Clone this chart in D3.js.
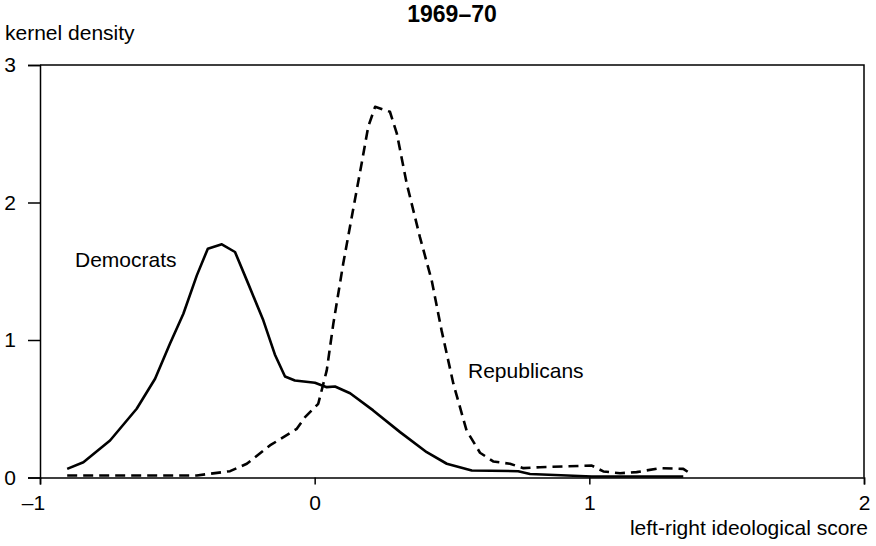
<!DOCTYPE html>
<meta charset="utf-8">
<body style="margin:0;background:#fff">
<style>
text { font-family: "Liberation Sans", Arial, Helvetica, sans-serif; font-size: 21px; fill: #000; }
.domain, .tick line { stroke: #000; stroke-width: 1.5px; }
.frame { fill: none; stroke: #000; stroke-width: 1.5px; }
.curve { fill: none; stroke: #000; stroke-width: 2.6px; stroke-linejoin: round; }
</style>
<script src="https://cdn.jsdelivr.net/npm/d3@7"></script>
<script>

// Democrats kernel density (solid)
var demX = [-0.901, -0.842, -0.745, -0.648, -0.581, -0.527, -0.478, -0.429, -0.389, -0.338,
            -0.290, -0.242, -0.187, -0.145, -0.108, -0.072, 0.001, 0.044, 0.074, 0.129,
            0.213, 0.311, 0.408, 0.481, 0.572, 0.741, 0.784, 1.009, 1.342];
var demY = [0.063, 0.111, 0.269, 0.500, 0.718, 0.973, 1.191, 1.470, 1.664, 1.696,
            1.640, 1.410, 1.143, 0.895, 0.735, 0.706, 0.689, 0.657, 0.662, 0.613,
            0.488, 0.330, 0.184, 0.100, 0.051, 0.046, 0.026, 0.007, 0.007];

// Republicans kernel density (dashed)
var repX = [-0.901, -0.429, -0.308, -0.247, -0.163, -0.065, -0.035, 0.013, 0.044, 0.068,
            0.104, 0.135, 0.171, 0.195, 0.220, 0.274, 0.299, 0.335, 0.383, 0.426,
            0.462, 0.505, 0.553, 0.602, 0.650, 0.711, 0.760, 0.820, 1.009, 1.051,
            1.112, 1.172, 1.257, 1.342, 1.360];
var repY = [0.015, 0.015, 0.046, 0.100, 0.233, 0.354, 0.439, 0.536, 0.779, 1.119,
            1.556, 1.895, 2.284, 2.551, 2.696, 2.660, 2.503, 2.139, 1.750, 1.434,
            1.070, 0.682, 0.342, 0.180, 0.117, 0.100, 0.068, 0.075, 0.087, 0.044,
            0.031, 0.039, 0.068, 0.063, 0.039];

var xTicks = [-1, 0, 1, 2];
var yTicks = [0, 1, 2, 3];

var width = 876, height = 546;
var svg = d3.select("body").append("svg")
    .attr("width", width)
    .attr("height", height);

var x = d3.scaleLinear().domain([-1, 2]).range([40, 864]);
var y = d3.scaleLinear().domain([0, 3]).range([477.5, 65]);

// frame (top and right edges)
svg.append("path")
    .attr("class", "frame")
    .attr("d", "M" + x(-1) + "," + y(3) + "H" + x(2) + "V" + y(0));

svg.append("g")
    .attr("transform", "translate(0," + y(0) + ")")
    .call(d3.axisBottom(x).tickValues(xTicks).tickSize(7).tickPadding(11)
      .tickFormat(function(d) { return d < 0 ? "\u2013" + Math.abs(d) : d; }))
    .call(function(g) {
      g.selectAll("text").style("font-size", "21px").style("font-family", null)
        .attr("dx", function(d) { return d < 0 ? -7 : 0; });
    });

svg.append("g")
    .attr("transform", "translate(" + x(-1) + ",0)")
    .call(d3.axisLeft(y).tickValues(yTicks).tickSize(12).tickPadding(12)
      .tickFormat(d3.format("d")))
    .call(function(g) {
      g.selectAll("text").style("font-size", "21px").style("font-family", null);
    });

svg.selectAll(".domain").attr("fill", "none");

var line = d3.line()
    .x(function(d) { return x(d[0]); })
    .y(function(d) { return y(d[1]); });

svg.append("path")
    .datum(d3.zip(demX, demY))
    .attr("class", "curve")
    .attr("d", line);

svg.append("path")
    .datum(d3.zip(repX, repY))
    .attr("class", "curve")
    .attr("stroke-dasharray", "10,6")
    .attr("d", line);

// titles and labels
svg.append("text")
    .attr("x", (x(-1) + x(2)) / 2)
    .attr("y", 22)
    .attr("text-anchor", "middle")
    .style("font-weight", "bold")
    .style("font-size", "23px")
    .text("1969\u201370");

svg.append("text")
    .attr("x", 5)
    .attr("y", 40)
    .text("kernel density");

svg.append("text")
    .attr("x", 868)
    .attr("y", 535)
    .attr("text-anchor", "end")
    .text("left-right ideological score");

svg.append("text")
    .attr("x", 75)
    .attr("y", 267)
    .text("Democrats");

svg.append("text")
    .attr("x", 468)
    .attr("y", 378)
    .text("Republicans");

</script>
